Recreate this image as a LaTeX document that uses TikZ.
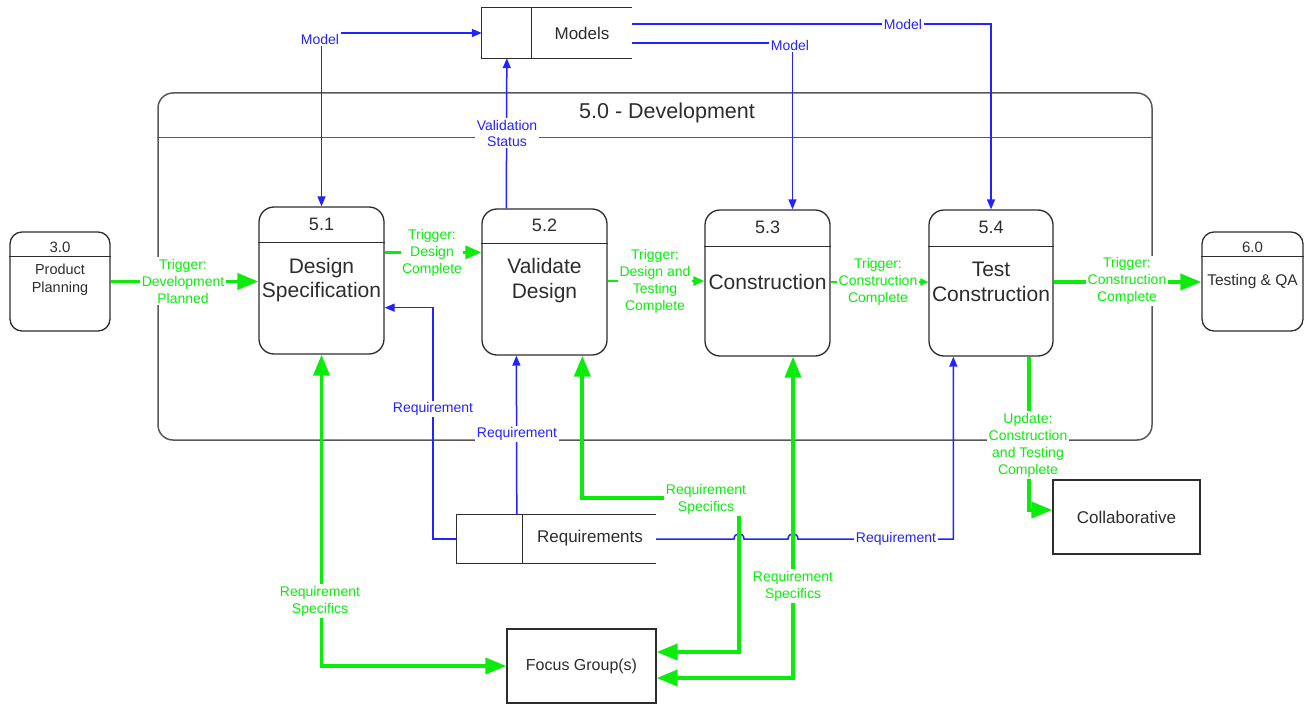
\documentclass[tikz,border=0pt]{standalone}
\usepackage{fontspec}
\setmainfont{Liberation Sans}
\usetikzlibrary{arrows.meta,calc}
\definecolor{flowgreen}{RGB}{12,236,12}
\definecolor{flowblue}{RGB}{35,35,255}
\definecolor{ink}{RGB}{45,45,45}

\begin{document}
\begin{tikzpicture}[x=1pt,y=-1pt,
  proc/.style={draw=ink, line width=1.3pt, rounded corners=15pt, inner sep=0pt},
  procline/.style={draw=ink, line width=1.3pt},
  devbox/.style={draw=black!65, line width=1.5pt, rounded corners=15pt, inner sep=0pt},
  storebox/.style={inner sep=0pt},
  storeline/.style={draw=ink, line width=1.2pt},
  extbox/.style={draw=ink, line width=1.3pt, inner sep=0pt},
  numtext/.style={text=ink, font=\fontsize{18}{21}\selectfont},
  smallnum/.style={text=ink, font=\fontsize{15}{18}\selectfont},
  titletext/.style={text=ink, font=\fontsize{21}{24.5}\selectfont, align=center},
  boxtext/.style={text=ink, font=\fontsize{17}{20}\selectfont},
  smalltext/.style={text=ink, font=\fontsize{14.5}{18}\selectfont, align=center},
  gbigtip/.tip={Triangle[length=21pt,width=16pt]},
  gbig/.style={draw=flowgreen, line width=3.8pt, -gbigtip},
  gmid/.style={draw=flowgreen, line width=3pt, -{Triangle[length=16pt,width=13pt]}},
  gsmall/.style={draw=flowgreen, line width=2.6pt, -{Triangle[length=11pt,width=9pt]}},
  gtiny/.style={draw=flowgreen, line width=2.6pt, -{Triangle[length=8pt,width=7pt]}},
  bflow/.style={draw=flowblue, line width=1.5pt, -{Triangle[length=10pt,width=8pt]}},
  glabel/.style={fill=white, text=flowgreen, font=\fontsize{14}{17}\selectfont, align=center, inner sep=1.5pt},
  blabel/.style={fill=white, text=flowblue, font=\fontsize{14}{16}\selectfont, align=center, inner sep=1.5pt},
]
\useasboundingbox (0,0) rectangle (1308,706);

% ---- 5.0 Development container ----
\node[devbox, minimum width=994pt, minimum height=347pt] (dev) at (655,266.5) {};
\draw[draw=black!65, line width=1.5pt] ($(dev.north west)+(0,45)$) -- ($(dev.north east)+(0,45)$);
\node[text=ink, font=\fontsize{21.5}{25}\selectfont] (devtitle) at (667,113) {5.0 - Development};

% ---- external processes ----
\node[proc, rounded corners=12pt, minimum width=100pt, minimum height=99pt] (p30) at (60,281.5) {};
\draw[procline] ($(p30.north west)+(0,25)$) -- ($(p30.north east)+(0,25)$);
\node[smallnum] (p30n) at (60,247) {3.0};
\node[smalltext] (p30t) at (60,280) {Product\\Planning};

\node[proc, rounded corners=12pt, minimum width=101pt, minimum height=99pt] (p60) at (1252.5,281.5) {};
\draw[procline] ($(p60.north west)+(0,25)$) -- ($(p60.north east)+(0,25)$);
\node[smallnum] (p60n) at (1252.5,247) {6.0};
\node[smalltext, font=\fontsize{15.5}{18}\selectfont] (p60t) at (1252.5,281) {Testing \& QA};

% ---- development sub-processes ----
\node[proc, minimum width=125pt, minimum height=147pt] (p51) at (321.5,280.5) {};
\draw[procline] ($(p51.north west)+(0,36)$) -- ($(p51.north east)+(0,36)$);
\node[numtext] (p51n) at (321.5,224) {5.1};
\node[titletext] (p51t) at (321.5,280) {Design\\Specification};

\node[proc, minimum width=125pt, minimum height=146pt] (p52) at (544.5,282) {};
\draw[procline] ($(p52.north west)+(0,35)$) -- ($(p52.north east)+(0,35)$);
\node[numtext] (p52n) at (544.5,225) {5.2};
\node[titletext] (p52t) at (544.5,280.5) {Validate\\Design};

\node[proc, minimum width=125pt, minimum height=146pt] (p53) at (767.5,283) {};
\draw[procline] ($(p53.north west)+(0,37)$) -- ($(p53.north east)+(0,37)$);
\node[numtext] (p53n) at (767.5,227) {5.3};
\node[titletext] (p53t) at (767.5,282) {Construction};

\node[proc, minimum width=124pt, minimum height=146pt] (p54) at (991,283) {};
\draw[procline] ($(p54.north west)+(0,37)$) -- ($(p54.north east)+(0,37)$);
\node[numtext] (p54n) at (991,227) {5.4};
\node[titletext] (p54t) at (991,282) {Test\\Construction};

% ---- data stores ----
\node[storebox, minimum width=150pt, minimum height=50pt] (models) at (557,33) {};
\draw[storeline] (models.north east) -- (models.north west) -- (models.south west) -- (models.south east);
\draw[storeline] ($(models.north west)+(50,0)$) -- ($(models.south west)+(50,0)$);
\node[boxtext] (modelst) at (582,33) {Models};

\node[storebox, minimum width=199pt, minimum height=48pt] (reqs) at (556.5,539) {};
\draw[storeline] (reqs.north east) -- (reqs.north west) -- (reqs.south west) -- (reqs.south east);
\draw[storeline] ($(reqs.north west)+(66,0)$) -- ($(reqs.south west)+(66,0)$);
\node[boxtext] (reqst) at (590,538) {Requirements};

% ---- external entities ----
\node[extbox, minimum width=149pt, minimum height=74pt] (focus) at (581.5,666) {};
\node[boxtext, font=\fontsize{16}{19}\selectfont] (focust) at (581.5,666) {Focus Group(s)};
\node[extbox, minimum width=147pt, minimum height=74pt] (collab) at (1126.5,517) {};
\node[boxtext] (collabt) at (1126.5,517) {Collaborative};

% ---- trigger flows ----
\coordinate (t51) at ($(p51.north east)+(0,46)$);
\coordinate (t52) at ($(p52.east)+(0,-1)$);
\coordinate (t53) at ($(p53.east)+(0,-1)$);
\coordinate (t54) at ($(p54.east)+(0,-1)$);
\draw[gbig] (p30.east) -- (p30.east -| p51.west);
\draw[gmid] (t51) -- (t51 -| p52.west);
\draw[gsmall] (t52) -- (t52 -| p53.west);
\draw[gtiny] (t53) -- (t53 -| p54.west);
\draw[gbig] (t54) -- (t54 -| p60.west);

% ---- model flows ----
\draw[bflow, {Triangle[length=10pt,width=8pt]}-{Triangle[length=10pt,width=8pt]}] (p51.north) |- (models.west);
\draw[bflow] ($(p52.north west)+(25,0)$) -- ($(models.south west)+(25,0)$);
\draw[bflow] ($(models.east)+(0,10)$) -| ($(p53.north)+(25,0)$);
\draw[bflow] ($(models.east)+(0,-9)$) -| (p54.north);

% ---- requirement flows ----
\draw[bflow] (reqs.west) -- ++(-24,0) |- ($(p51.south east)+(0,-47)$);
\draw[bflow] ($(reqs.north west)+(60,0)$) -- ($(p52.south west)+(35,0)$);
\draw[bflow] (reqs.east) -- (734,539)
  .. controls (734,532) and (744,532) .. (744,539) -- (788,539)
  .. controls (788,532) and (798,532) .. (798,539)
  -| ($(p54.south west)+(25,0)$);

% ---- requirement specifics flows ----
\draw[gbig, gbigtip-gbigtip] (p51.south) |- (focus.west);
\draw[gbig, gbigtip-gbigtip] ($(p52.south west)+(101,0)$) |- (739,498) |- ($(focus.east)+(0,-14)$);
\draw[gbig, gbigtip-gbigtip] ($(p53.south)+(25.5,0)$) |- ($(focus.east)+(0,12)$);
\draw[gbig] ($(p54.south)+(38,0)$) |- ($(collab.west)+(0,-7)$);

% ---- flow labels ----
\node[glabel] (l1) at (183,281) {Trigger:\\Development\\Planned};
\node[glabel] (l2) at (432,253) {Trigger:\\Design\\Complete};
\node[glabel] (l3) at (655,281) {Trigger:\\Design and\\Testing\\Complete};
\node[glabel] (l4) at (878,282) {Trigger:\\Construction\\Complete};
\node[glabel] (l5) at (1127,281) {Trigger:\\Construction\\Complete};
\node[glabel] (l6) at (1028,445) {Update:\\Construction\\and Testing\\Complete};
\node[glabel] (l7) at (320,601) {Requirement\\Specifics};
\node[glabel] (l8) at (706,499) {Requirement\\Specifics};
\node[glabel] (l9) at (793,586) {Requirement\\Specifics};

\node[blabel] (m1) at (320,39) {Model};
\node[blabel] (m2) at (790,45) {Model};
\node[blabel] (m3) at (903,24) {Model};
\node[blabel] (vs) at (507,133) {Validation\\Status};
\node[blabel] (r1) at (433,409) {Requirement};
\node[blabel] (r2) at (517,434) {Requirement};
\node[blabel] (r3) at (896,539) {Requirement};
\end{tikzpicture}
\end{document}
